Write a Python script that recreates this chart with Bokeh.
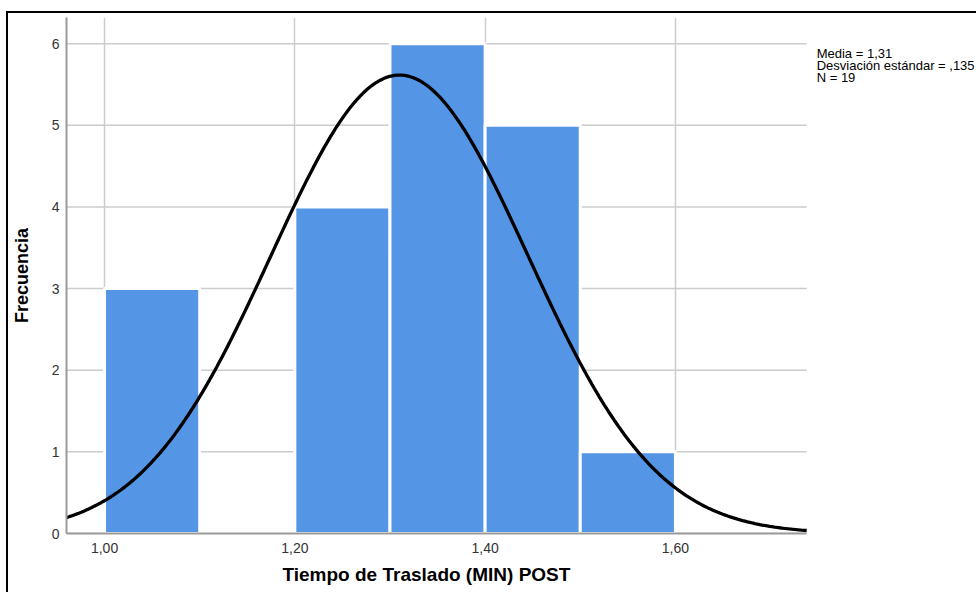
import math
from bokeh.plotting import figure
from bokeh.models import FixedTicker, Label, Range1d, ColumnDataSource, Title
from bokeh.embed import file_html
from bokeh.resources import INLINE

# --- data ---
bin_left = [1.00, 1.10, 1.20, 1.30, 1.40, 1.50]
bin_right = [1.10, 1.20, 1.30, 1.40, 1.50, 1.60]
counts = [3, 0, 4, 6, 5, 1]
mean_val = 1.31
sd_val = 0.135
n_val = 19
bin_width = 0.10
x_min, x_max = 0.96, 1.738      # extent of the chart's x axis
y_min, y_max = 0, 6.32          # extent of the chart's y axis
x_ticks = [1.00, 1.20, 1.40, 1.60]
x_tick_labels = ["1,00", "1,20", "1,40", "1,60"]
y_ticks = [0, 1, 2, 3, 4, 5, 6]
stats_lines = ["Media = 1,31", "Desviación estándar = ,135", "N = 19"]
x_title = "Tiempo de Traslado (MIN) POST"
y_title = "Frecuencia"

FONT = "Liberation Sans"

# layout (pixels)
FIG_W, FIG_H = 970, 581
LEFT, TOP = 57, 4
FRAME_H = 516
BOTTOM = FIG_H - TOP - FRAME_H
FRAME_W = FIG_W - LEFT
AXIS_W = 741                      # pixel width of the axis region
px_per_x = AXIS_W / (x_max - x_min)
x_end = x_min + FRAME_W / px_per_x

p = figure(width=FIG_W, height=FIG_H, output_backend="svg", toolbar_location=None,
           x_range=Range1d(x_min, x_end), y_range=Range1d(y_min, y_max),
           min_border_left=LEFT, min_border_right=0, min_border_top=TOP, min_border_bottom=BOTTOM,
           margin=(13, 0, 0, 8))
p.styles = {"box-shadow": "-2px -2px 0px 0px black"}
p.outline_line_color = None
p.background_fill_color = "white"
p.border_fill_color = "white"

# grids: vertical via grid, horizontal drawn limited to the axis extent
p.xgrid.ticker = FixedTicker(ticks=x_ticks)
p.xgrid.grid_line_color = "#cccccc"
p.xgrid.grid_line_width = 1.5
p.ygrid.grid_line_color = None
p.segment(x0=[x_min] * len(y_ticks), x1=[x_max] * len(y_ticks), y0=y_ticks, y1=y_ticks,
          line_color="#cccccc", line_width=1.5)

# bars
src = ColumnDataSource(dict(left=bin_left, right=bin_right, top=counts, bottom=[0] * len(counts)))
p.quad(left="left", right="right", top="top", bottom="bottom", source=src,
       fill_color="#5495e5", line_color="white", line_width=3)

# normal curve from the stated mean, sd and N
xs = [x_min + i * (x_max - x_min) / 300 for i in range(301)]
ys = [n_val * bin_width / (sd_val * math.sqrt(2 * math.pi)) * math.exp(-0.5 * ((x - mean_val) / sd_val) ** 2) for x in xs]
p.line(xs, ys, line_color="black", line_width=3.3)

# axes
p.xaxis.ticker = FixedTicker(ticks=x_ticks)
p.xaxis.major_label_overrides = {t: l for t, l in zip(x_ticks, x_tick_labels)}
p.xaxis.bounds = (x_min, x_max)
p.yaxis.ticker = FixedTicker(ticks=y_ticks)
for ax in (p.xaxis, p.yaxis):
    ax.axis_line_color = "#9a9a9a"
    ax.axis_line_width = 2
    ax.major_tick_line_color = None
    ax.minor_tick_line_color = None
    ax.major_tick_out = 0
    ax.major_tick_in = 0
    ax.major_label_text_font = FONT
    ax.major_label_text_font_size = "14px"
    ax.major_label_text_color = "#333333"
p.xaxis.major_label_standoff = 9
p.yaxis.major_label_standoff = 7
p.yaxis.axis_label = y_title
p.yaxis.axis_label_text_font = FONT
p.yaxis.axis_label_text_font_size = "18px"
p.yaxis.axis_label_text_font_style = "bold"
p.yaxis.axis_label_text_color = "black"
p.yaxis.axis_label_standoff = 17

# x title, left-aligned under the axis region (the frame extends to the right for the stats text)
p.add_layout(Title(text=x_title, align="left", offset=216, text_font=FONT, text_font_size="19px",
                   text_font_style="bold", text_color="black", standoff=13), "below")

# stats text, placed to the right of the axis region
y_per_px = (y_max - y_min) / FRAME_H
for i, line in enumerate(stats_lines):
    p.add_layout(Label(x=x_max + 10 / px_per_x, y=y_max - (28 + i * 12) * y_per_px, text=line,
                       text_font=FONT, text_font_size="13px", text_color="black",
                       text_baseline="top", text_align="left"))

open("out.html", "w").write(file_html(p, INLINE))
